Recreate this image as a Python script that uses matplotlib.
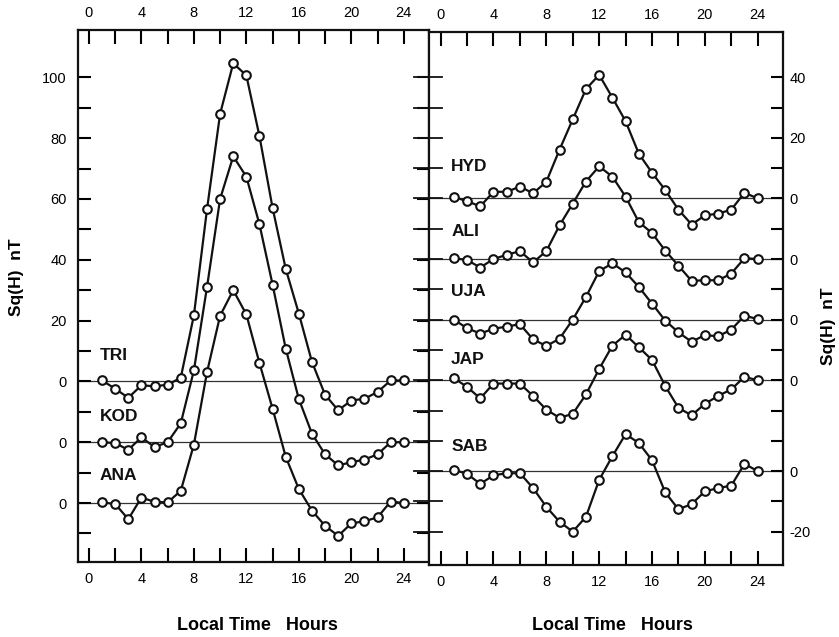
import matplotlib
matplotlib.use("Agg")
import matplotlib.pyplot as plt
import numpy as np

plt.rcParams['font.family'] = ['Liberation Sans', 'DejaVu Sans']

hours = list(range(1, 25))

# Left panel stations (nT)
TRI = [0.3, -2.4, -5.4, -1.3, -1.6, -1.1, 1.2, 21.7, 56.6, 88.0, 104.6, 100.6,
       80.6, 57.0, 37.0, 22.3, 6.4, -4.4, -9.5, -6.3, -5.7, -3.5, 0.3, 0.3]
KOD = [0.0, -0.3, -2.5, 1.6, -1.6, 0.0, 6.2, 23.6, 51.0, 80.0, 94.0, 87.3,
       71.6, 51.8, 30.8, 14.2, 2.8, -4.0, -7.6, -6.6, -5.7, -4.0, 0.0, 0.0]
ANA = [0.2, -0.3, -5.3, 1.8, 0.4, 0.2, 4.0, 19.2, 43.0, 61.6, 70.0, 62.0,
       46.0, 31.0, 15.2, 4.6, -2.5, -7.5, -10.8, -6.7, -6.0, -4.7, 0.5, 0.0]

# Right panel stations (nT)
HYD = [0.5, -0.9, -2.6, 2.2, 2.2, 3.9, 1.7, 5.5, 16.1, 26.1, 36.1, 40.8,
       33.3, 25.5, 14.8, 8.5, 2.8, -3.7, -8.6, -5.6, -5.0, -3.7, 1.9, 0.0]
ALI = [0.3, -0.3, -2.8, 0.0, 1.4, 2.6, -1.1, 2.6, 11.1, 18.3, 25.6, 30.6,
       27.2, 20.6, 12.2, 8.6, 2.8, -2.2, -7.2, -7.0, -7.0, -4.8, 0.3, 0.0]
UJA = [0.0, -2.8, -4.6, -3.0, -2.3, -1.5, -6.5, -8.7, -6.3, 0.0, 7.5, 16.0,
       18.6, 15.6, 10.8, 5.3, -0.3, -4.2, -7.3, -5.1, -5.5, -3.3, 1.3, 0.2]
JAP = [0.7, -2.2, -6.0, -1.1, -1.1, -1.1, -5.2, -9.7, -12.4, -11.1, -4.7, 3.7,
       11.4, 15.0, 10.9, 6.7, -1.9, -9.1, -11.6, -7.8, -5.2, -3.0, 1.1, 0.0]
SAB = [0.4, -0.9, -4.2, -1.4, -0.7, -0.7, -5.6, -11.8, -16.7, -20.0, -15.1, -2.9,
       4.9, 12.2, 9.3, 3.6, -7.0, -12.6, -10.9, -6.7, -5.6, -4.8, 2.4, 0.0]

left_names = ["TRI", "KOD", "ANA"]
left_series = [TRI, KOD, ANA]
left_offsets = [0, -20, -40]
left_label_y = [8.5, -11.7, -31]

right_names = ["HYD", "ALI", "UJA", "JAP", "SAB"]
right_series = [HYD, ALI, UJA, JAP, SAB]
right_offsets = [0, -20, -40, -60, -90]
right_label_y = [10.4, -11, -30.8, -53.2, -82]

left_yticks = list(range(-50, 101, 10))
left_ylabels = {100: "100", 80: "80", 60: "60", 40: "40", 20: "20", 0: "0", -20: "0", -40: "0"}
right_yticks = list(range(-110, 41, 10))
right_ylabels = {40: "40", 20: "20", 0: "0", -20: "0", -40: "0", -60: "0", -90: "0", -110: "-20"}
xticks = list(range(0, 25, 2))
xlabels = [str(t) if t % 4 == 0 else "" for t in xticks]

W, H = 839, 637
fig = plt.figure(figsize=(W / 100, H / 100), dpi=100)
axL = fig.add_axes([0.093, 0.1177, 0.418, 0.835])
axR = fig.add_axes([0.511, 0.113, 0.422, 0.837])

lc = "#111111"

def draw(ax, names, series, offsets, laby):
    for name, s, off, ly in zip(names, series, offsets, laby):
        ax.axhline(off, color="#333333", lw=0.9, zorder=1)
        ax.plot(hours, np.array(s) + off, color=lc, lw=1.6, marker="o", ms=6.2,
                mfc="white", mec=lc, mew=1.5, zorder=3)
        ax.text(0.8, ly, name, fontsize=12.5, fontweight="bold", color="#111111",
                ha="left", va="center", zorder=4)
    for sp in ax.spines.values():
        sp.set_linewidth(1.6)
        sp.set_color("#111111")
    ax.set_xticks(xticks)
    ax.set_xticklabels(xlabels)
    ax.tick_params(axis="x", which="both", direction="in", length=10, width=1.5,
                   top=True, bottom=True, labeltop=True, labelbottom=True,
                   labelsize=10.5, pad=7)

draw(axL, left_names, left_series, left_offsets, left_label_y)
axL.set_xlim(-0.83, 25.9)
axL.set_ylim(-59.4, 115.5)
axL.set_yticks(left_yticks)
axL.set_yticklabels([left_ylabels.get(t, "") for t in left_yticks])
axL.tick_params(axis="y", direction="in", length=9, width=1.5, left=True, right=True,
                labelleft=True, labelright=False, labelsize=10.5, pad=8)

draw(axR, right_names, right_series, right_offsets, right_label_y)
axR.set_xlim(-0.9, 25.9)
axR.set_ylim(-121, 55)
axR.set_yticks(right_yticks)
axR.set_yticklabels([right_ylabels.get(t, "") for t in right_yticks])
axR.tick_params(axis="y", direction="in", length=9, width=1.5, left=False, right=True,
                labelleft=False, labelright=True, labelsize=10.5, pad=5)

# Ticks on the shared (left) spine of the right panel, extending both ways
for t in right_yticks:
    axR.plot([-0.9 - 1.1, -0.9 + 1.0], [t, t], color="#111111", lw=1.3,
             clip_on=False, zorder=5)

# Axis titles placed as in the reference
fig.text(17 / W, 1 - 277 / H, "Sq(H)  nT", rotation=90, ha="center", va="center",
         fontsize=12.5, fontweight="bold")
fig.text(828 / W, 1 - 326 / H, "Sq(H)  nT", rotation=90, ha="center", va="center",
         fontsize=12.5, fontweight="bold")
fig.text(257 / W, 1 - 625 / H, "Local Time   Hours", ha="center", va="center",
         fontsize=13, fontweight="bold")
fig.text(612 / W, 1 - 625 / H, "Local Time   Hours", ha="center", va="center",
         fontsize=13, fontweight="bold")

fig.savefig("out.png", dpi=100)
